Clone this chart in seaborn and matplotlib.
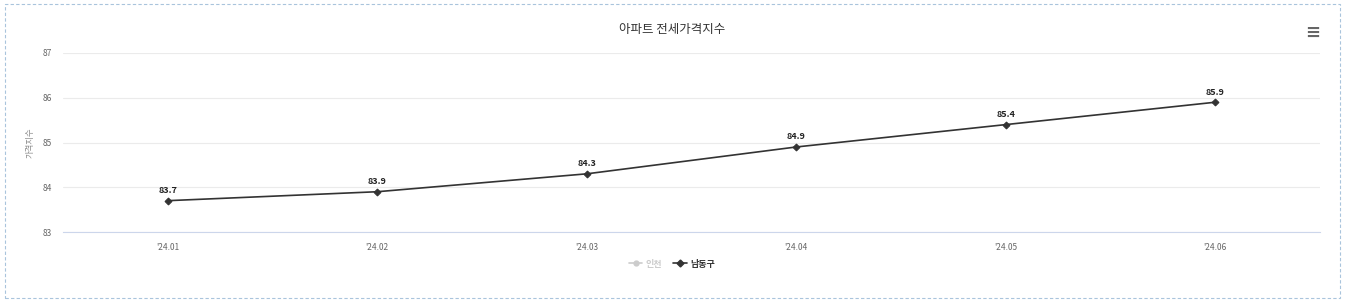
import matplotlib
matplotlib.use("Agg")
import matplotlib.pyplot as plt
from matplotlib.patches import Rectangle
from matplotlib.lines import Line2D
import seaborn as sns
import pandas as pd

months = ["'24.01", "'24.02", "'24.03", "'24.04", "'24.05", "'24.06"]
namdong = [83.7, 83.9, 84.3, 84.9, 85.4, 85.9]
y_ticks = [83, 84, 85, 86, 87]

sns.set_theme(style="white")
plt.rcParams["font.family"] = ["Noto Sans CJK KR", "DejaVu Sans"]

df = pd.DataFrame({"month": months, "value": namdong, "pos": range(len(months))})

fig = plt.figure(figsize=(13.45, 3.02), dpi=100)
fig.patch.set_facecolor("white")
ax = fig.add_axes([63 / 1345, 1 - 232 / 302, (1320 - 63) / 1345, (232 - 53) / 302])

sns.lineplot(data=df, x="pos", y="value", ax=ax, color="#333333", linewidth=1.2,
             marker="D", markersize=3.5, markeredgecolor="#333333")

for x, v in zip(df["pos"], df["value"]):
    ax.annotate(f"{v}", (x, v), xytext=(0, 4), textcoords="offset points",
                ha="center", va="bottom", fontsize=6.5, fontweight="bold", color="#222222")

ax.set_xlim(-0.5, len(months) - 0.5)
ax.set_ylim(83, 87)
ax.set_yticks(y_ticks)
ax.set_yticklabels([str(t) for t in y_ticks], fontsize=6, color="#666666")
ax.set_xticks(range(len(months)))
ax.set_xticklabels(months, fontsize=6, color="#666666")
ax.tick_params(axis="x", length=0, pad=8)
ax.tick_params(axis="y", length=0, pad=8)
ax.yaxis.grid(True, color="#ebebeb", linewidth=0.8)
ax.xaxis.grid(False)
for side in ["left", "right", "top"]:
    ax.spines[side].set_visible(False)
ax.spines["bottom"].set_color("#ccd6eb")
ax.spines["bottom"].set_linewidth(0.8)
ax.set_xlabel("")
ax.set_ylabel("가격지수", fontsize=6, color="#888888")
ax.yaxis.set_label_coords(-(63 - 35) / 1257, 0.5)

fig.text(672 / 1345, 1 - 30 / 302, "아파트 전세가격지수", ha="center", va="center",
         fontsize=9, color="#333333")
fig.text(1313 / 1345, 1 - 33 / 302, "≡", ha="center", va="center",
         fontsize=13, color="#666666", family="DejaVu Sans", fontweight="bold")

# legend: hidden 인천 series in grey, visible 남동구 in black
handles = [
    Line2D([], [], color="#cccccc", marker="o", markersize=3.5, linewidth=1.2),
    Line2D([], [], color="#333333", marker="D", markersize=3.5, linewidth=1.2),
]
leg = fig.legend(handles, ["인천", "남동구"], loc="center", ncol=2,
                 bbox_to_anchor=(672 / 1345, 1 - 264 / 302), frameon=False,
                 fontsize=6.5, handlelength=1.5, columnspacing=1.2, handletextpad=0.4)
texts = leg.get_texts()
texts[0].set_color("#cccccc")
texts[0].set_fontweight("bold")
texts[1].set_color("#333333")
texts[1].set_fontweight("bold")

fig.patches.append(Rectangle((5 / 1345, 4 / 302), 1335 / 1345, 294 / 302,
                             transform=fig.transFigure, fill=False,
                             edgecolor="#a9c4dc", linestyle=(0, (3, 2)), linewidth=0.8))

fig.savefig("out.png", dpi=100, facecolor="white")
